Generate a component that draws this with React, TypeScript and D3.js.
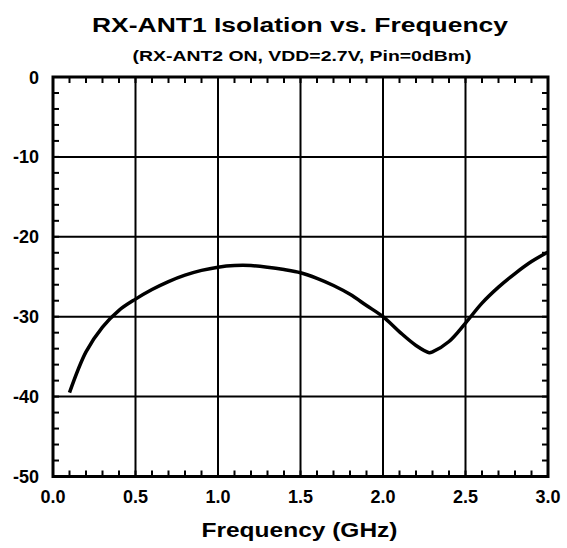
import React from "react";
import * as d3 from "d3";

const freqs = [0.1, 0.2, 0.3, 0.4, 0.5, 0.6, 0.7, 0.8, 0.9, 1.0, 1.1, 1.2, 1.3, 1.4, 1.5, 1.6, 1.7, 1.8, 1.9, 2.0, 2.1, 2.2, 2.28, 2.3, 2.4, 2.5, 2.6, 2.7, 2.8, 2.9, 3.0];
const isolation = [-39.5, -34.4, -31.3, -29.2, -27.8, -26.6, -25.6, -24.8, -24.2, -23.8, -23.6, -23.6, -23.8, -24.1, -24.5, -25.2, -26.1, -27.2, -28.6, -30.0, -31.9, -33.6, -34.5, -34.4, -33.1, -30.8, -28.3, -26.3, -24.6, -23.1, -21.9];
const xTicks = [0, 0.5, 1.0, 1.5, 2.0, 2.5, 3.0];
const yTicks = [0, -10, -20, -30, -40, -50];
const xMinor = d3.range(0, 31).map((i) => i / 10);
const yMinor = d3.range(-50, 1, 2);

const title = "RX-ANT1 Isolation vs. Frequency";
const subtitle = "(RX-ANT2 ON, VDD=2.7V, Pin=0dBm)";
const xLabel = "Frequency (GHz)";

const W = 567;
const H = 548;
const L = 53, R = 548, T = 77, B = 476.5;

export default function App() {
  const x = d3.scaleLinear().domain([0, 3]).range([L, R]);
  const y = d3.scaleLinear().domain([-50, 0]).range([B, T]);
  const line = d3
    .line<number>()
    .x((_, i) => x(freqs[i]))
    .y((d) => y(d))
    .curve(d3.curveCatmullRom.alpha(0.5));
  const font = "'Liberation Sans', Arial, sans-serif";
  return (
    <svg width={W} height={H} style={{ position: "absolute", left: 0, top: 0 }} fontFamily={font}>
      <rect x={0} y={0} width={W} height={H} fill="#fff" />
      <text x={300} y={32} textAnchor="middle" fontSize={20} fontWeight="bold" textLength={416} lengthAdjust="spacingAndGlyphs">{title}</text>
      <text x={302} y={61} textAnchor="middle" fontSize={14} fontWeight="bold" textLength={339} lengthAdjust="spacingAndGlyphs">{subtitle}</text>
      {xTicks.slice(1, -1).map((t) => (
        <line key={"gx" + t} x1={x(t)} x2={x(t)} y1={T} y2={B} stroke="#000" strokeWidth={2} />
      ))}
      {yTicks.slice(1, -1).map((t) => (
        <line key={"gy" + t} x1={L} x2={R} y1={y(t)} y2={y(t)} stroke="#000" strokeWidth={2} />
      ))}
      {xMinor.map((t) => (
        <g key={"mx" + t}>
          <line x1={x(t)} x2={x(t)} y1={B} y2={B - 6} stroke="#000" strokeWidth={2} />
          <line x1={x(t)} x2={x(t)} y1={T} y2={T + 6} stroke="#000" strokeWidth={2} />
        </g>
      ))}
      {yMinor.map((t) => (
        <g key={"my" + t}>
          <line x1={L} x2={L + 6} y1={y(t)} y2={y(t)} stroke="#000" strokeWidth={2} />
          <line x1={R} x2={R - 6} y1={y(t)} y2={y(t)} stroke="#000" strokeWidth={2} />
        </g>
      ))}
      <rect x={L} y={T} width={R - L} height={B - T} fill="none" stroke="#000" strokeWidth={3} />
      <path d={line(isolation) || ""} fill="none" stroke="#000" strokeWidth={3.5} strokeLinejoin="round" strokeLinecap="butt" />
      {xTicks.map((t) => (
        <text key={"xl" + t} x={x(t)} y={503} textAnchor="middle" fontSize={18} fontWeight="bold">{t.toFixed(1)}</text>
      ))}
      {yTicks.map((t) => (
        <text key={"yl" + t} x={39} y={y(t) + 6.5} textAnchor="end" fontSize={18} fontWeight="bold">{t}</text>
      ))}
      <text x={299.5} y={537} textAnchor="middle" fontSize={19.5} fontWeight="bold" textLength={196} lengthAdjust="spacingAndGlyphs">{xLabel}</text>
    </svg>
  );
}
